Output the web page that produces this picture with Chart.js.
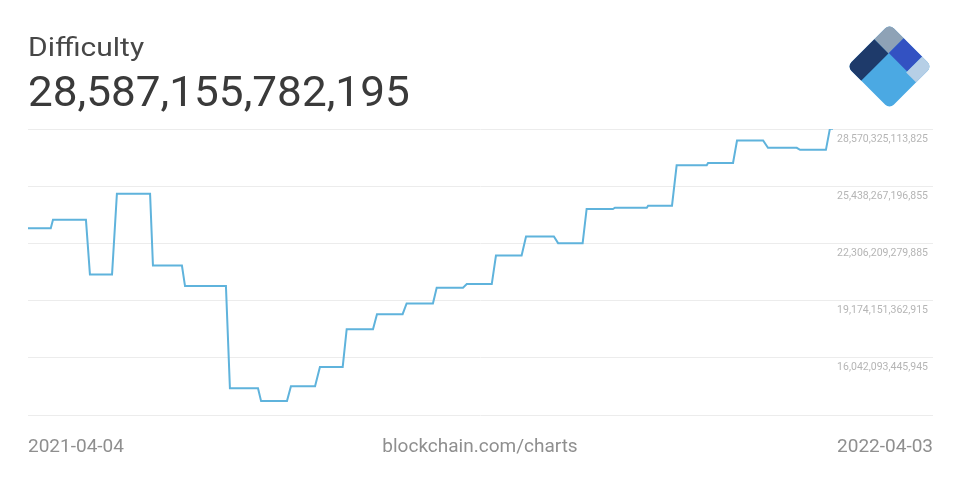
<!DOCTYPE html>
<html>
<head>
<meta charset="utf-8">
<script src="https://cdn.jsdelivr.net/npm/chart.js@4/dist/chart.umd.min.js"></script>
<style>
  html, body { margin: 0; padding: 0; background: #fff; }
  body { width: 960px; height: 480px; position: relative; overflow: hidden; font-family: Roboto, "Noto Sans", sans-serif; }
  #wrap { position: absolute; left: 0; top: 0; width: 960px; height: 480px; }
  .txt { position: absolute; white-space: nowrap; line-height: 1; }
  #title { left: 28px; top: 35px; font-size: 25px; color: #474747; transform: scaleX(1.2); transform-origin: left top; }
  #value { left: 28px; top: 71px; font-size: 42px; color: #3a3a3a; transform: scaleX(1.05); transform-origin: left top; }
  .foot { top: 436px; font-size: 19px; color: #8f8f8f; }
  #logo { position: absolute; left: 839px; top: 16px; }
</style>
</head>
<body>
<div id="wrap"><canvas id="chart" width="960" height="480"></canvas></div>
<div class="txt" id="title">Difficulty</div>
<div class="txt" id="value">28,587,155,782,195</div>
<div class="txt foot" style="left:28px">2021-04-04</div>
<div class="txt foot" style="left:480px;transform:translateX(-50%)">blockchain.com/charts</div>
<div class="txt foot" style="right:27px">2022-04-03</div>
<svg id="logo" width="100" height="100" viewBox="839 16 100 100">
  <defs><clipPath id="cp"><rect x="-30" y="-30" width="60" height="60" rx="6"/></clipPath></defs>
  <g transform="translate(889.5,66.5) rotate(45)" clip-path="url(#cp)">
    <rect x="-31" y="-31" width="62" height="62" fill="#4ba9e3"/>
    <rect x="-31" y="-31" width="21" height="22.5" fill="#8ea2b6"/>
    <rect x="-31" y="-8.5" width="21" height="40" fill="#1e3a6a"/>
    <rect x="-10" y="-31" width="26" height="22" fill="#3352c2"/>
    <rect x="16" y="-31" width="15" height="23.5" fill="#b6cfe6"/>
  </g>
</svg>
<script>
// days since 2021-04-04, corner points of each difficulty step
const days = [0, 10.3, 11.3, 26.2, 28.0, 38.0, 40.2, 55.2, 56.5, 69.6, 71.0, 89.5, 91.3, 104.0,
  105.4, 117.1, 118.9, 129.8, 132.0, 142.3, 144.1, 156.0, 157.8, 169.4, 171.2, 183.1, 184.8,
  196.7, 198.4, 209.7, 211.6, 223.2, 225.2, 237.8, 239.7, 250.8, 252.6, 264.5, 265.4, 279.8,
  280.4, 291.2, 293.3, 306.9, 307.5, 318.8, 320.6, 332.4, 334.6, 347.6, 349.1, 360.8, 362.6, 364];
// difficulty, trillions
const difficultyT = [23.14, 23.14, 23.60, 23.60, 20.61, 20.61, 25.03, 25.03, 21.09, 21.09, 19.97,
  19.97, 14.38, 14.38, 13.67, 13.67, 14.49, 14.49, 15.54, 15.54, 17.61, 17.61, 18.43, 18.43,
  19.02, 19.02, 19.88, 19.88, 20.08, 20.08, 21.64, 21.64, 22.68, 22.68, 22.32, 22.32, 24.19,
  24.19, 24.26, 24.26, 24.37, 24.37, 26.58, 26.58, 26.71, 26.71, 27.94, 27.94, 27.54, 27.54,
  27.43, 27.43, 28.587, 28.587];
const yTicks = [12.910035528975, 16.042093445945, 19.174151362915, 22.306209279885, 25.438267196855, 28.570325113825];
const yTickLabels = ['', '16,042,093,445,945', '19,174,151,362,915', '22,306,209,279,885', '25,438,267,196,855', '28,570,325,113,825'];
const lastDay = 364;

const points = days.map((d, i) => ({ x: d, y: difficultyT[i] }));

new Chart(document.getElementById('chart'), {
  type: 'line',
  data: {
    datasets: [{
      data: points,
      borderColor: '#5fb3dc',
      borderWidth: 2,
      pointRadius: 0,
      tension: 0,
      fill: false
    }]
  },
  options: {
    responsive: false,
    animation: false,
    devicePixelRatio: 1,
    layout: { padding: { left: 28, right: 27, top: 129, bottom: 65 } },
    plugins: { legend: { display: false }, tooltip: { enabled: false } },
    scales: {
      x: {
        type: 'linear',
        display: false,
        min: 0,
        max: lastDay * 905 / 805
      },
      y: {
        position: 'right',
        min: yTicks[0],
        max: yTicks[yTicks.length - 1],
        afterBuildTicks: s => { s.ticks = yTicks.map(v => ({ value: v })); },
        afterFit: s => { s.width = 0; },
        border: { display: false },
        grid: { color: '#ececec', lineWidth: 1, drawTicks: false },
        ticks: {
          mirror: true,
          padding: -5,
          labelOffset: 10,
          color: '#b5b5b5',
          font: { family: 'Roboto', size: 10.5 },
          callback: (v, i) => yTickLabels[i]
        }
      }
    }
  }
});
</script>
</body>
</html>
